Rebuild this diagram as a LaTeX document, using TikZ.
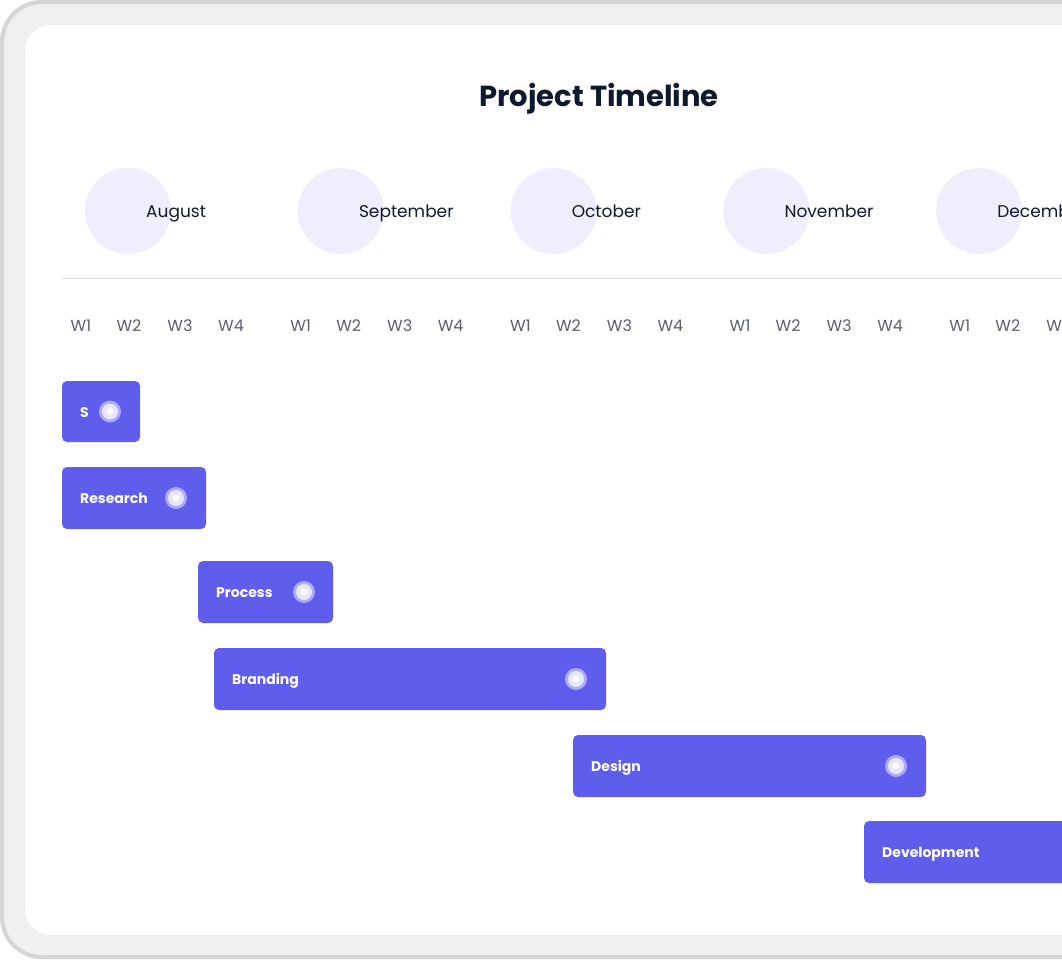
\documentclass[tikz,border=0pt]{standalone}
\usepackage{fontspec}
\setmainfont{Poppins}
\usetikzlibrary{positioning,calc}
\definecolor{barblue}{HTML}{5F5DEC}
\definecolor{dotring}{HTML}{ADABF5}
\definecolor{monthfill}{HTML}{EEEEFC}
\definecolor{framegray}{HTML}{EEEFF1}
\definecolor{edgegray}{HTML}{D4D5D8}
\definecolor{inkdark}{HTML}{0F1A2E}
\definecolor{weekgray}{HTML}{5A5F6B}
\tikzset{
  taskbar/.style={fill=barblue, rounded corners=5pt},
  tasklabel/.style={anchor=base west, text=white, font=\fontsize{14}{16}\selectfont\bfseries, inner sep=0pt},
  monthdisc/.style={fill=monthfill, draw=none},
  monthlabel/.style={anchor=base west, text=inkdark, font=\fontsize{17}{20}\selectfont, inner sep=0pt},
  weeklabel/.style={anchor=base, text=weekgray, font=\fontsize{16}{19}\selectfont, inner sep=0pt}
}
\newcommand{\taskdot}[1]{%
  \fill[dotring] (#1) circle (11);
  \fill[white!70!dotring] (#1) circle (8);
  \fill[white] (#1) circle (3.5);
}
\begin{document}
\begin{tikzpicture}[x=1pt,y=-1pt]
  \useasboundingbox (0,0) rectangle (1062,960);
  \clip (0,0) rectangle (1062,960);
  % % Frame
  \draw[edgegray, line width=4pt, fill=framegray, rounded corners=40pt] (2,2) rectangle (1120,957);
  \fill[white, rounded corners=26pt] (25,25) rectangle (1120,935);

  % Title
  \node[text=inkdark, font=\fontsize{29}{34}\selectfont\bfseries] (title) at (599,99) {Project Timeline};

  % % Months
  \foreach \m/\name [count=\i from 0] in {aug/August, sep/September, oct/October, nov/November, dec/December}{
    \fill[monthdisc] ($(128,211)+(\i*212.8,0)$) circle (43);
    \node[monthlabel] (\m) at ($(146,217)+(\i*212.8,0)$) {\name};
  }
  \draw[edgegray!70, line width=0.8pt] (62,278) -- (1062,278);

  % % Weeks
  \foreach \i in {0,...,4}{
    \foreach \w/\dx in {1/0, 2/48, 3/99, 4/150}{
      \node[weeklabel] (w\i\w) at ($(81,331)+(\i*219.7+\dx,0)$) {W\w};
    }
  }

  % % Tasks
  \fill[taskbar] (62,381) rectangle (140,442);
  \node[tasklabel] (tS) at (80,417) {S};
  \taskdot{110,411.5}
  \fill[taskbar] (62,467) rectangle (206,529);
  \node[tasklabel] (tR) at (80,503.5) {Research};
  \taskdot{176,498}
  \fill[taskbar] (198,561) rectangle (333,623);
  \node[tasklabel] (tP) at (216,597.5) {Process};
  \taskdot{304,592}
  \fill[taskbar] (214,648) rectangle (606,710);
  \node[tasklabel] (tB) at (232,684.5) {Branding};
  \taskdot{576,679}
  \fill[taskbar] (573,735) rectangle (926,797);
  \node[tasklabel] (tD) at (591,771.5) {Design};
  \taskdot{896,766}
  \fill[taskbar] (864,821) rectangle (1120,883);
  \node[tasklabel] (tV) at (882,857.5) {Development};
\end{tikzpicture}
\end{document}
